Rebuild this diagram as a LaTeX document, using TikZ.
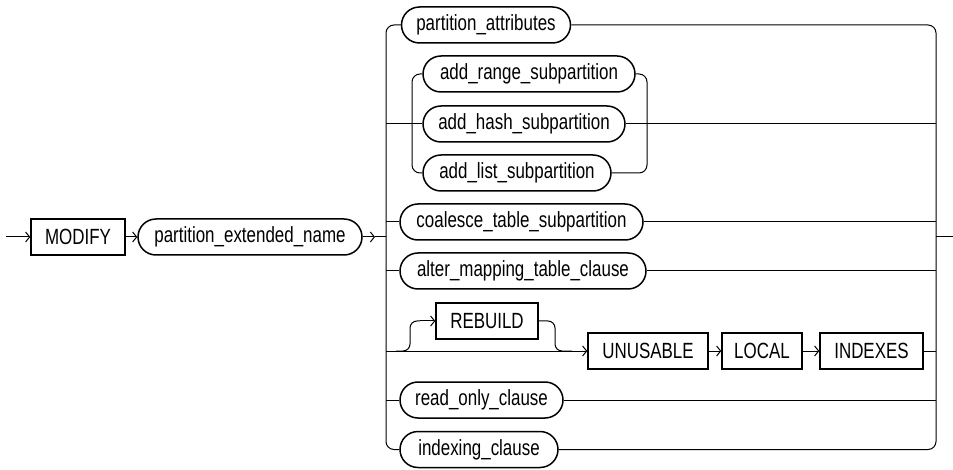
\documentclass[tikz,border=0pt]{standalone}
\usepackage{fontspec}
\setmainfont{Liberation Sans}[FakeStretch=0.77]
\usepackage{tikz}
\usetikzlibrary{arrows.meta, shapes.misc, positioning}
\tikzset{
    kwnode/.style={rectangle, draw, line width=1.5pt, minimum height=36pt, inner sep=0pt, font=\fontsize{22}{24}\selectfont},
    refnode/.style={rounded rectangle, draw, line width=1.5pt, minimum height=36pt, inner sep=0pt, font=\fontsize{22}{24}\selectfont},
    rail/.style={draw, line width=1pt},
    arr/.style={rail, -{Straight Barb[length=4pt, width=10pt]}},
}
\begin{document}
\begin{tikzpicture}[x=1pt, y=-1pt]
    \useasboundingbox (0,0) rectangle (953,470);
    \node[kwnode, minimum width=94pt] (modify) at (78,237) {MODIFY};
    \node[refnode, minimum width=224pt] (pen) at (250,237) {partition\_extended\_name};
    \node[refnode, minimum width=169pt] (pattr) at (486,25) {partition\_attributes};
    \node[refnode, minimum width=212pt] (arange) at (529,74) {add\_range\_subpartition};
    \node[refnode, minimum width=202pt] (ahash) at (524,124) {add\_hash\_subpartition};
    \node[refnode, minimum width=188pt] (alist) at (517,173) {add\_list\_subpartition};
    \node[refnode, minimum width=243pt] (coal) at (521.5,222) {coalesce\_table\_subpartition};
    \node[refnode, minimum width=246pt] (altmap) at (523,271) {alter\_mapping\_table\_clause};
    \node[kwnode, minimum width=102pt] (rebuild) at (487,321) {REBUILD};
    \node[kwnode, minimum width=120pt] (unusable) at (648,351) {UNUSABLE};
    \node[kwnode, minimum width=80pt] (local) at (762,351) {LOCAL};
    \node[kwnode, minimum width=103pt] (indexes) at (871.5,351) {INDEXES};
    \node[refnode, minimum width=163pt] (readonly) at (481.5,400) {read\_only\_clause};
    \node[refnode, minimum width=158pt] (indexing) at (479,449.5) {indexing\_clause};

    \coordinate (start) at (6,237);
    \coordinate (fork) at (386,237);
    \coordinate (join) at (936,237);
    \coordinate (finish) at (953,237);

    \draw[arr] (start) -- (modify.west);
    \draw[arr] (modify.east) -- (pen.west);
    \draw[arr] (pen.east) -- (375,237);
    \draw[rail] (375,237) -- (fork);
    \draw[rail] (join) -- (finish);

    \draw[rail, rounded corners=8pt] (pattr.west) -- (386,25) -- (386,449.5) -- (indexing.west);
    \draw[rail, rounded corners=8pt] (pattr.east) -- (936,25) -- (936,449.5) -- (indexing.east);

    \draw[rail, rounded corners=8pt] (arange.west) -- (412,74) -- (412,173) -- (alist.west);
    \draw[rail, rounded corners=8pt] (arange.east) -- (647,74) -- (647,173) -- (alist.east);
    \draw[rail] (386,124) -- (ahash.west);
    \draw[rail] (ahash.east) -- (936,124);

    \draw[rail] (386,222) -- (coal.west);
    \draw[rail] (coal.east) -- (936,222);
    \draw[rail] (386,271) -- (altmap.west);
    \draw[rail] (altmap.east) -- (936,271);

    \draw[arr] (386,351) -- (unusable.west);
    \draw[rail, rounded corners=7pt] (396,351) -| (410,321) -- (420,321);
    \draw[arr] (420,321) -- (rebuild.west);
    \draw[rail, rounded corners=7pt] (rebuild.east) -| (555,351) -- (572,351);
    \draw[arr] (unusable.east) -- (local.west);
    \draw[arr] (local.east) -- (indexes.west);
    \draw[rail] (indexes.east) -- (936,351);

    \draw[rail] (386,400) -- (readonly.west);
    \draw[rail] (readonly.east) -- (936,400);
\end{tikzpicture}
\end{document}
